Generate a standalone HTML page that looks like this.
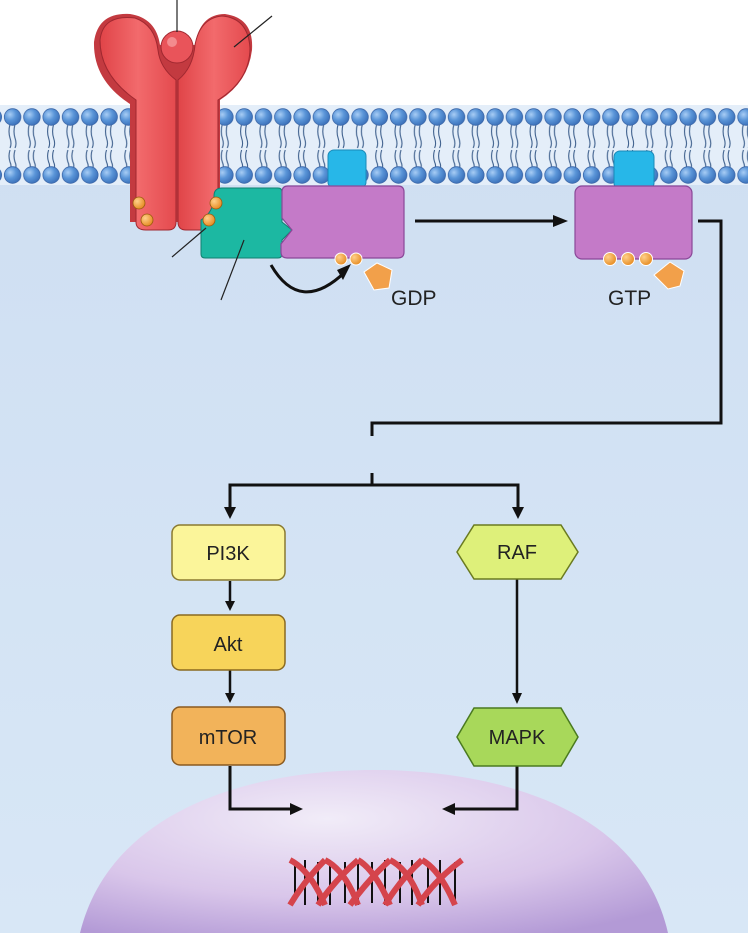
<!DOCTYPE html>
<html><head><style>
html,body{margin:0;padding:0;width:748px;height:933px;overflow:hidden;}
body{font-family:"Liberation Sans",sans-serif;}
svg{display:block;}
</style></head><body>
<svg width="748" height="933" viewBox="0 0 748 933" xmlns="http://www.w3.org/2000/svg" style="overflow:hidden">
<defs>
<linearGradient id="cyto" x1="0" y1="0" x2="0" y2="1">
<stop offset="0" stop-color="#a9bedf"/><stop offset="0.06" stop-color="#cfdff2"/><stop offset="1" stop-color="#d8e7f6"/>
</linearGradient>
<radialGradient id="head" cx="0.35" cy="0.35" r="0.7">
<stop offset="0" stop-color="#a8cdf5"/><stop offset="0.5" stop-color="#5a95d8"/><stop offset="1" stop-color="#3a6fb8"/>
</radialGradient>
<radialGradient id="nuc" cx="0.42" cy="0.3" r="0.8">
<stop offset="0" stop-color="#f1ecf8"/><stop offset="0.6" stop-color="#d9c6ea"/><stop offset="1" stop-color="#b39ad6"/>
</radialGradient>
<radialGradient id="ball" cx="0.35" cy="0.35" r="0.7">
<stop offset="0" stop-color="#ffd08a"/><stop offset="1" stop-color="#e58a20"/>
</radialGradient>
<pattern id="lip" x="3" y="0" width="19.3" height="933" patternUnits="userSpaceOnUse">
<path d="M7 124 q-2 8 0 14 q2 6 0 10 M12 124 q-2 8 0 14 q2 6 0 10 M7 150 q-2 6 0 12 q2 4 0 8 M12 150 q-2 6 0 12 q2 4 0 8" stroke="#3d5f8c" stroke-width="1.1" fill="none"/>
<circle cx="9.6" cy="117" r="8.3" fill="url(#head)" stroke="#3a66a8" stroke-width="0.8"/>
<circle cx="9.6" cy="175" r="8.3" fill="url(#head)" stroke="#3a66a8" stroke-width="0.8"/>
</pattern>
<linearGradient id="red" x1="0" y1="0" x2="1" y2="0">
<stop offset="0" stop-color="#e04448"/><stop offset="0.5" stop-color="#f26a6c"/><stop offset="1" stop-color="#e44a4e"/>
</linearGradient>
</defs>
<rect width="748" height="933" fill="#fff"/>
<rect y="105" width="748" height="828" fill="url(#cyto)"/>
<rect x="0" y="105" width="748" height="80" fill="#e4eef9"/>
<rect x="0" y="100" width="748" height="90" fill="url(#lip)"/>
<path d="M80 933 C110 810 250 770 373 770 C500 770 640 810 668 933 Z" fill="url(#nuc)"/>
<!-- receptor -->
<path d="M130 222 L130 104 Q93 80 94 42 Q98 12 130 14 Q156 18 160 45 L195 45 Q200 14 225 14 Q254 18 252 50 Q248 82 220 100 L220 222 Z" fill="#c33a40"/>
<path d="M136 222 Q136 230 146 230 L168 230 Q176 230 176 222 L176 80 Q160 68 158 50 Q155 25 135 18 Q103 14 100 40 Q100 75 136 100 Z" fill="url(#red)" stroke="#a02830" stroke-width="1"/>
<path d="M178 222 Q178 230 186 230 L208 230 Q218 230 218 222 L218 100 Q250 80 250 48 Q248 18 222 16 Q200 18 195 45 Q193 68 178 80 Z" fill="url(#red)" stroke="#a02830" stroke-width="1"/>
<circle cx="177" cy="47" r="16" fill="#e9545a" stroke="#a02830" stroke-width="1"/>
<circle cx="172" cy="42" r="5" fill="#f7a3a4" opacity="0.7"/>
<line x1="177" y1="0" x2="177" y2="32" stroke="#222" stroke-width="1.2"/>
<line x1="234" y1="47" x2="272" y2="16" stroke="#222" stroke-width="1.2"/>
<!-- teal -->
<path d="M222 188 L278 188 Q282 188 282 192 L282 222 L292 230 L282 240 L282 254 Q282 258 278 258 L205 258 Q201 258 201 254 L201 220 Q214 212 214 196 Q214 188 222 188 Z" fill="#1cb8a2" stroke="#108070" stroke-width="1"/>
<circle cx="139" cy="203" r="6" fill="url(#ball)" stroke="#9a5a10" stroke-width="0.8"/>
<circle cx="147" cy="220" r="6" fill="url(#ball)" stroke="#9a5a10" stroke-width="0.8"/>
<circle cx="216" cy="203" r="6" fill="url(#ball)" stroke="#9a5a10" stroke-width="0.8"/>
<circle cx="209" cy="220" r="6" fill="url(#ball)" stroke="#9a5a10" stroke-width="0.8"/>
<line x1="172" y1="257" x2="206" y2="228" stroke="#222" stroke-width="1.2"/>
<line x1="221" y1="300" x2="244" y2="240" stroke="#222" stroke-width="1.2"/>
<!-- purple 1 -->
<rect x="328" y="150" width="38" height="38" rx="6" fill="#27b7e8" stroke="#1a8ab8" stroke-width="1"/>
<path d="M288 186 L398 186 Q404 186 404 192 L404 252 Q404 258 398 258 L287 258 Q281 258 281 252 L281 244 L292 230 L282 218 L282 192 Q282 186 288 186 Z" fill="#c47ac8" stroke="#8a4898" stroke-width="1.2"/>
<circle cx="341" cy="259" r="6" fill="url(#ball)" stroke="#fff" stroke-width="1"/>
<circle cx="356" cy="259" r="6" fill="url(#ball)" stroke="#fff" stroke-width="1"/>
<path d="M377 263 L392 270 L389 288 L374 290 L364 272 Z" fill="#f2a04a" stroke="#fff" stroke-width="1"/>
<text x="391" y="305" font-size="21" fill="#222">GDP</text>
<path d="M271 265 Q300 315 345 272" fill="none" stroke="#111" stroke-width="3"/>
<path d="M351 264 L343 280 L337 270 Z" fill="#111"/>
<line x1="415" y1="221" x2="558" y2="221" stroke="#111" stroke-width="3"/>
<path d="M568 221 L553 215 L553 227 Z" fill="#111"/>
<!-- purple 2 -->
<rect x="614" y="151" width="40" height="38" rx="6" fill="#27b7e8" stroke="#1a8ab8" stroke-width="1"/>
<rect x="575" y="186" width="117" height="73" rx="7" fill="#c47ac8" stroke="#8a4898" stroke-width="1.2"/>
<circle cx="610" cy="259" r="6.5" fill="url(#ball)" stroke="#fff" stroke-width="1"/>
<circle cx="628" cy="259" r="6.5" fill="url(#ball)" stroke="#fff" stroke-width="1"/>
<circle cx="646" cy="259" r="6.5" fill="url(#ball)" stroke="#fff" stroke-width="1"/>
<path d="M670 262 L684 271 L680 286 L668 289 L654 275 Z" fill="#f2a04a" stroke="#fff" stroke-width="1"/>
<text x="608" y="305" font-size="21" fill="#222">GTP</text>
<!-- connectors -->
<polyline points="698,221 721,221 721,423 372,423 372,436" fill="none" stroke="#111" stroke-width="3"/>
<polyline points="372,473 372,485" fill="none" stroke="#111" stroke-width="3"/>
<polyline points="230,510 230,485 518,485 518,510" fill="none" stroke="#111" stroke-width="3"/>
<path d="M230 519 L224 507 L236 507 Z M518 519 L512 507 L524 507 Z" fill="#111"/>
<line x1="230" y1="581" x2="230" y2="602" stroke="#111" stroke-width="2.5"/>
<path d="M230 611 L225 601 L235 601 Z" fill="#111"/>
<line x1="230" y1="670" x2="230" y2="694" stroke="#111" stroke-width="2.5"/>
<path d="M230 703 L225 693 L235 693 Z" fill="#111"/>
<line x1="517" y1="579" x2="517" y2="694" stroke="#111" stroke-width="2.5"/>
<path d="M517 704 L512 693 L522 693 Z" fill="#111"/>
<polyline points="230,766 230,809 290,809" fill="none" stroke="#111" stroke-width="3"/>
<path d="M303 809 L290 803 L290 815 Z" fill="#111"/>
<polyline points="517,766 517,809 455,809" fill="none" stroke="#111" stroke-width="3"/>
<path d="M442 809 L455 803 L455 815 Z" fill="#111"/>
<!-- nodes -->
<rect x="172" y="525" width="113" height="55" rx="8" fill="#fbf59a" stroke="#8a7a30" stroke-width="1.5"/>
<text x="228" y="560" font-size="20" text-anchor="middle" fill="#222">PI3K</text>
<rect x="172" y="615" width="113" height="55" rx="8" fill="#f7d45a" stroke="#8a6a20" stroke-width="1.5"/>
<text x="228" y="651" font-size="20" text-anchor="middle" fill="#222">Akt</text>
<rect x="172" y="707" width="113" height="58" rx="8" fill="#f2b35a" stroke="#8a5a20" stroke-width="1.5"/>
<text x="228" y="744" font-size="20" text-anchor="middle" fill="#222">mTOR</text>
<path d="M474 525 L561 525 L578 552 L561 579 L474 579 L457 552 Z" fill="#def07a" stroke="#6a7a20" stroke-width="1.5"/>
<text x="517" y="559" font-size="20" text-anchor="middle" fill="#222">RAF</text>
<path d="M474 708 L561 708 L578 737 L561 766 L474 766 L457 737 Z" fill="#a8d85a" stroke="#4a7a20" stroke-width="1.5"/>
<text x="517" y="744" font-size="20" text-anchor="middle" fill="#222">MAPK</text>
<!-- DNA -->
<g stroke="#111" stroke-width="2">
<line x1="295" y1="865" x2="295" y2="900"/><line x1="305" y1="860" x2="305" y2="905"/><line x1="318" y1="862" x2="318" y2="903"/><line x1="330" y1="860" x2="330" y2="905"/><line x1="345" y1="862" x2="345" y2="903"/><line x1="358" y1="860" x2="358" y2="905"/><line x1="372" y1="862" x2="372" y2="903"/><line x1="385" y1="860" x2="385" y2="905"/><line x1="400" y1="862" x2="400" y2="903"/><line x1="412" y1="860" x2="412" y2="905"/><line x1="428" y1="862" x2="428" y2="903"/><line x1="440" y1="860" x2="440" y2="905"/><line x1="455" y1="862" x2="455" y2="903"/>
</g>
<g fill="none" stroke="#d5444c" stroke-width="6">
<path d="M290 860 Q310 870 325 905 M325 860 Q345 870 358 905 M358 860 Q375 870 390 905 M390 860 Q410 870 422 905 M422 860 Q440 870 455 905"/>
<path d="M290 905 Q305 880 325 860 M318 905 Q335 880 358 860 M350 905 Q368 880 390 860 M385 905 Q400 880 422 860 M418 905 Q435 880 462 860"/>
</g>
</svg>
</body></html>
